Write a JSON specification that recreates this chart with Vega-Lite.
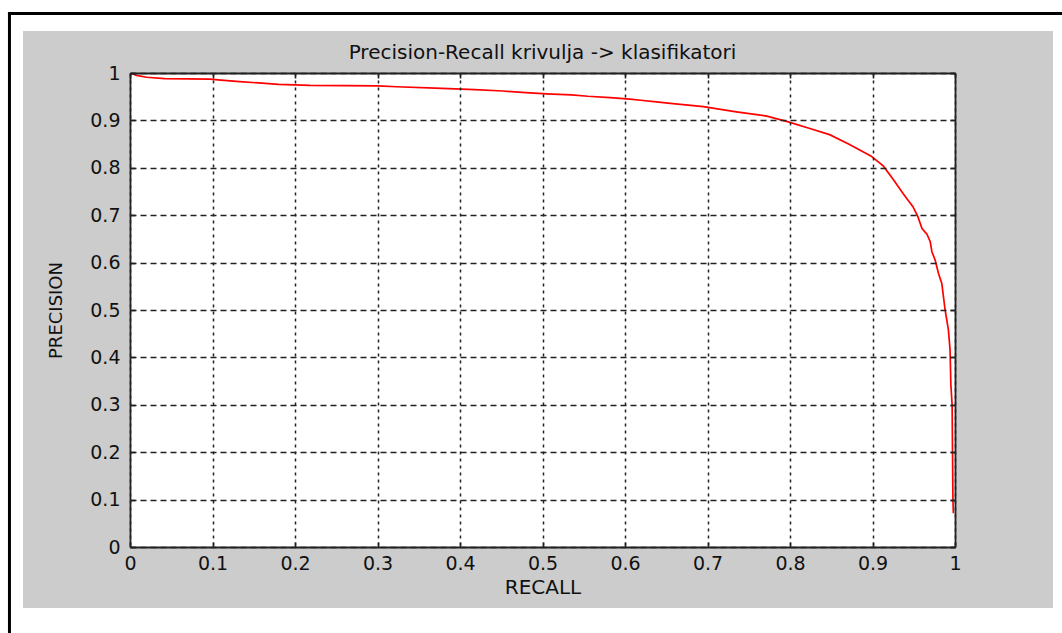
{
  "$schema": "https://vega.github.io/schema/vega-lite/v6.json",
  "width": 825,
  "height": 474,
  "autosize": {"type": "none"},
  "padding": {"left": 130, "top": 73, "right": 107, "bottom": 86},
  "background": "white",
  "config": {"view": {"stroke": null}},
  "title": {
    "text": "Precision-Recall krivulja -> klasifikatori",
    "font": "DejaVu Sans",
    "fontSize": 20,
    "fontWeight": "normal",
    "color": "#111111",
    "anchor": "middle",
    "frame": "group",
    "baseline": "alphabetic",
    "offset": -68
  },
  "resolve": {"axis": {"x": "independent", "y": "independent"}},
  "layer": [
    {
      "data": {"values": [{}]},
      "mark": {"type": "rect", "color": "#cccccc"},
      "encoding": {
        "x": {"datum": -0.1297, "type": "quantitative", "scale": {"domain": [0, 1]}, "axis": null},
        "x2": {"datum": 1.1188},
        "y": {"datum": -0.1287, "type": "quantitative", "scale": {"domain": [0, 1]}, "axis": null},
        "y2": {"datum": 1.0886}
      }
    },
    {
      "data": {"values": [{}]},
      "mark": {"type": "rule", "color": "#000000", "strokeWidth": 3, "strokeCap": "square"},
      "encoding": {
        "x": {"datum": -0.1461, "type": "quantitative", "scale": {"domain": [0, 1]}, "axis": null},
        "x2": {"datum": 1.2},
        "y": {"datum": 1.1255, "type": "quantitative", "scale": {"domain": [0, 1]}, "axis": null}
      }
    },
    {
      "data": {"values": [{}]},
      "mark": {"type": "rule", "color": "#000000", "strokeWidth": 3, "strokeCap": "square"},
      "encoding": {
        "x": {"datum": -0.1461, "type": "quantitative", "scale": {"domain": [0, 1]}, "axis": null},
        "y": {"datum": 1.1255, "type": "quantitative", "scale": {"domain": [0, 1]}, "axis": null},
        "y2": {"datum": -0.3}
      }
    },
    {
      "data": {"values": [{}]},
      "mark": {"type": "rect", "color": "#ffffff"},
      "encoding": {
        "x": {
          "datum": 0, "type": "quantitative", "scale": {"domain": [0, 1]},
          "axis": {
            "orient": "top", "values": [0, 0.1, 0.2, 0.3, 0.4, 0.5, 0.6, 0.7, 0.8, 0.9, 1],
            "labels": false, "title": null, "grid": false, "zindex": 2,
            "tickSize": -5, "tickColor": "#222222", "tickWidth": 1.6,
            "domainColor": "#222222", "domainWidth": 1.8
          }
        },
        "x2": {"datum": 1},
        "y": {
          "datum": 0, "type": "quantitative", "scale": {"domain": [0, 1]},
          "axis": {
            "orient": "right", "values": [0, 0.1, 0.2, 0.3, 0.4, 0.5, 0.6, 0.7, 0.8, 0.9, 1],
            "labels": false, "title": null, "grid": false, "zindex": 2,
            "tickSize": -5, "tickColor": "#222222", "tickWidth": 1.6,
            "domainColor": "#222222", "domainWidth": 1.8
          }
        },
        "y2": {"datum": 1}
      }
    },
    {
      "data": {
        "values": [
          {"recall": 0.002, "precision": 0.999},
          {"recall": 0.008, "precision": 0.995},
          {"recall": 0.02, "precision": 0.991},
          {"recall": 0.042, "precision": 0.988},
          {"recall": 0.097, "precision": 0.987},
          {"recall": 0.11, "precision": 0.985},
          {"recall": 0.133, "precision": 0.982},
          {"recall": 0.156, "precision": 0.979},
          {"recall": 0.18, "precision": 0.976},
          {"recall": 0.218, "precision": 0.974},
          {"recall": 0.3, "precision": 0.973},
          {"recall": 0.323, "precision": 0.971},
          {"recall": 0.37, "precision": 0.968},
          {"recall": 0.418, "precision": 0.965},
          {"recall": 0.452, "precision": 0.962},
          {"recall": 0.475, "precision": 0.959},
          {"recall": 0.505, "precision": 0.956},
          {"recall": 0.535, "precision": 0.954},
          {"recall": 0.555, "precision": 0.951},
          {"recall": 0.582, "precision": 0.948},
          {"recall": 0.606, "precision": 0.945},
          {"recall": 0.622, "precision": 0.942},
          {"recall": 0.638, "precision": 0.939},
          {"recall": 0.655, "precision": 0.936},
          {"recall": 0.695, "precision": 0.929},
          {"recall": 0.735, "precision": 0.918},
          {"recall": 0.772, "precision": 0.909},
          {"recall": 0.798, "precision": 0.897},
          {"recall": 0.824, "precision": 0.883},
          {"recall": 0.848, "precision": 0.87},
          {"recall": 0.871, "precision": 0.85},
          {"recall": 0.898, "precision": 0.825},
          {"recall": 0.913, "precision": 0.804},
          {"recall": 0.925, "precision": 0.776},
          {"recall": 0.937, "precision": 0.746},
          {"recall": 0.949, "precision": 0.718},
          {"recall": 0.955, "precision": 0.697},
          {"recall": 0.96, "precision": 0.672},
          {"recall": 0.966, "precision": 0.66},
          {"recall": 0.97, "precision": 0.644},
          {"recall": 0.972, "precision": 0.623},
          {"recall": 0.976, "precision": 0.605},
          {"recall": 0.98, "precision": 0.577},
          {"recall": 0.984, "precision": 0.556},
          {"recall": 0.986, "precision": 0.528},
          {"recall": 0.988, "precision": 0.5},
          {"recall": 0.992, "precision": 0.458},
          {"recall": 0.994, "precision": 0.416},
          {"recall": 0.995, "precision": 0.342},
          {"recall": 0.9965, "precision": 0.3},
          {"recall": 0.997, "precision": 0.2},
          {"recall": 0.9975, "precision": 0.1},
          {"recall": 0.998, "precision": 0.071}
        ]
      },
      "mark": {"type": "line", "color": "#ff0000", "strokeWidth": 1.7},
      "encoding": {
        "x": {
          "field": "recall", "type": "quantitative", "scale": {"domain": [0, 1]},
          "axis": {
            "orient": "bottom", "values": [0, 0.1, 0.2, 0.3, 0.4, 0.5, 0.6, 0.7, 0.8, 0.9, 1],
            "format": "~g", "title": "RECALL", "zindex": 1,
            "grid": true, "gridDash": [3, 4], "gridColor": "#222222", "gridWidth": 1.5,
            "tickSize": -5, "tickColor": "#222222", "tickWidth": 1.6,
            "domainColor": "#222222", "domainWidth": 1.8,
            "labelFont": "DejaVu Sans", "labelFontSize": 19, "labelColor": "#111111",
            "labelPadding": 12, "labelFlush": false, "labelOverlap": false,
            "titleFont": "DejaVu Sans", "titleFontSize": 20, "titleFontWeight": "normal",
            "titleColor": "#111111", "titlePadding": 4
          }
        },
        "y": {
          "field": "precision", "type": "quantitative", "scale": {"domain": [0, 1]},
          "axis": {
            "orient": "left", "values": [0, 0.1, 0.2, 0.3, 0.4, 0.5, 0.6, 0.7, 0.8, 0.9, 1],
            "format": "~g", "title": "PRECISION", "zindex": 1,
            "grid": true, "gridDash": [6, 4], "gridColor": "#222222", "gridWidth": 1.5,
            "tickSize": -5, "tickColor": "#222222", "tickWidth": 1.6,
            "domainColor": "#222222", "domainWidth": 1.8,
            "labelFont": "DejaVu Sans", "labelFontSize": 19, "labelColor": "#111111",
            "labelPadding": 15, "labelOverlap": false, "labelFlush": false,
            "titleFont": "DejaVu Sans", "titleFontSize": 18, "titleFontWeight": "normal",
            "titleColor": "#111111", "titlePadding": 24
          }
        }
      }
    }
  ]
}
